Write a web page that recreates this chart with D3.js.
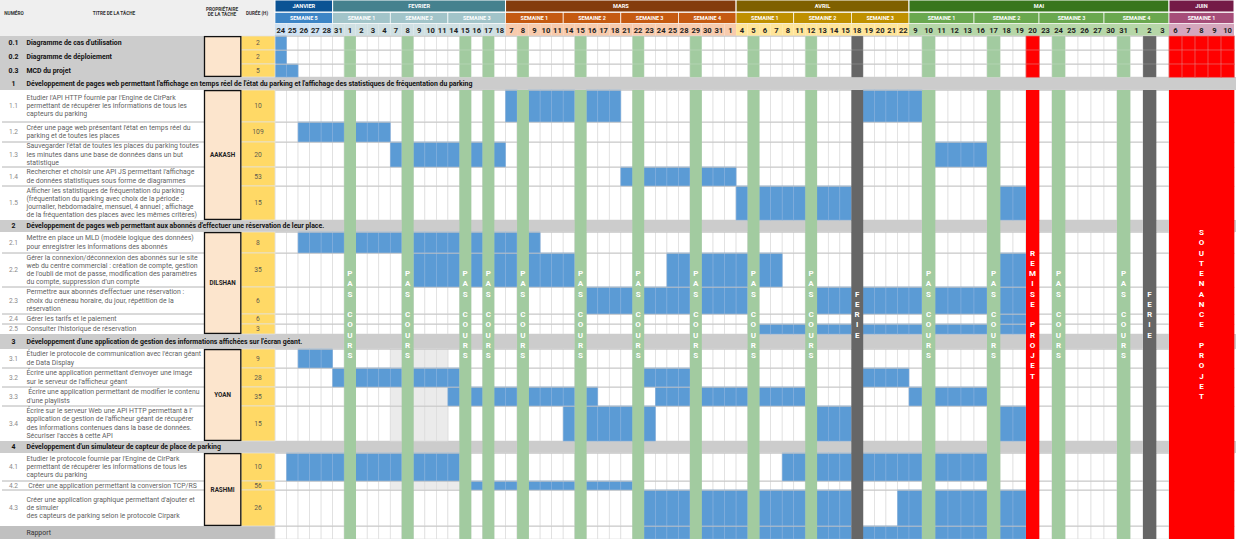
<!DOCTYPE html>
<html><head><meta charset="utf-8">
<script src="https://cdn.jsdelivr.net/npm/d3@7"></script>
<style>
html,body{margin:0;padding:0;background:#fff;}
svg{display:block;font-family:Roboto,"Liberation Sans",Arial,sans-serif;}
</style></head><body>
<svg id="chart" width="1236" height="539"></svg>
<script>
// ================= DATA =================
const months = ["JANVIER","FEVRIER","MARS","AVRIL","MAI","JUIN"];
const monthDayCounts = [5,15,20,15,20,5];
const weeks = ["SEMAINE 5","SEMAINE 1","SEMAINE 2","SEMAINE 3","SEMAINE 1","SEMAINE 2","SEMAINE 3","SEMAINE 4",
  "SEMAINE 1","SEMAINE 2","SEMAINE 3","SEMAINE 1","SEMAINE 2","SEMAINE 3","SEMAINE 4","SEMAINE 1"];
const days = ["24","25","26","27","28","31","1","2","3","4","7","8","9","10","11","14","15","16","17","18",
  "7","8","9","10","11","14","15","16","17","18","21","22","23","24","25","28","29","30","31","1",
  "4","5","6","7","8","11","12","13","14","15","18","19","20","21","22",
  "9","10","11","12","13","16","17","18","19","20","23","24","25","26","27","30","31","1","2","3",
  "6","7","8","9","10"];
const headerLabels = ["NUMÉRO","TITRE DE LA TÂCHE","PROPRIÉTAIRE|DE LA TÂCHE","DURÉE (H)"];

const rowIds = ["0.1","0.2","0.3","1","1.1","1.2","1.3","1.4","1.5","2","2.1","2.2","2.3","2.4","2.5",
  "3","3.1","3.2","3.3","3.4","4","4.1","4.2","4.3",""];
const rowTitles = [
  ["Diagramme de cas d'utilisation"],
  ["Diagramme de déploiement"],
  ["MCD du projet"],
  ["Développement de pages web permettant l'affichage en temps réel de l'état du parking et l'affichage des statistiques de fréquentation du parking"],
  ["Etudier l'API HTTP fournie par l'Engine de CirPark","permettant de récupérer les informations de tous les","capteurs du parking"],
  ["Créer une page web présentant l'état en temps réel du","parking et de toutes les places"],
  ["Sauvegarder l'état de toutes les places du parking toutes","les minutes dans une base de données dans un but","statistique"],
  ["Rechercher et choisir une API JS permettant l'affichage","de données statistiques sous forme de diagrammes"],
  ["Afficher les statistiques de fréquentation du parking","(fréquentation du parking avec choix de la période :","journalier, hebdomadaire, mensuel, 4 annuel ; affichage","de la fréquentation des places avec les mêmes critères)"],
  ["Développement de pages web permettant aux abonnés d'effectuer une réservation de leur place."],
  ["Mettre en place un MLD (modèle logique des données)","pour enregistrer les informations des abonnés"],
  ["Gérer la connexion/déconnexion des abonnés sur le site","web du centre commercial : création de compte, gestion","de l'oubli de mot de passe, modification des paramètres","du compte, suppression d'un compte"],
  ["Permettre aux abonnés d'effectuer une réservation :","choix du créneau horaire, du jour, répétition de la","réservation"],
  ["Gérer les tarifs et le paiement"],
  ["Consulter l'historique de réservation"],
  ["Développement d'une application de gestion des informations affichées sur l'écran géant."],
  ["Étudier le protocole de communication avec l'écran géant","de Data Display"],
  ["Écrire une application permettant d'envoyer une image","sur le serveur de l'afficheur géant"],
  [" Écrire une application permettant de modifier le contenu","d'une playlists"],
  ["Écrire sur le serveur Web une API HTTP permettant à l'","application de gestion de l'afficheur géant de récupérer","des informations contenues dans la base de données.","Sécuriser l'accès à cette API"],
  ["Développement d'un simulateur de capteur de place de parking"],
  ["Etudier le protocole fournie par l'Engine de CirPark","permettant de récupérer les informations de tous les","capteurs du parking"],
  [" Créer une application permettant la conversion TCP/RS"],
  ["Créer une application graphique permettant d'ajouter et","de simuler","des capteurs de parking selon le protocole Cirpark"],
  ["Rapport"]
];
const durations = [2,2,5,null,10,109,20,53,15,null,8,35,6,6,3,null,9,28,35,15,null,10,56,26,null];
// worked day ranges (column indexes, inclusive)
const workedDays = [
  [[0,0]],[[0,0]],[[0,1]],[],
  [[20,20],[22,25],[27,29],[51,55]],
  [[2,9]],
  [[10,19],[57,60]],
  [[30,39]],
  [[40,49],[62,63]],
  [],
  [[2,22]],
  [[12,25],[34,43],[62,63]],
  [[27,40],[47,60],[62,63]],
  [[62,63]],
  [[42,49],[51,60],[62,63]],
  [],
  [[2,4]],
  [[5,15],[32,35],[51,54]],
  [[15,27],[33,45],[55,60]],
  [[25,32],[47,49],[62,63]],
  [],
  [[1,15],[44,60]],
  [[17,30]],
  [[32,49],[54,60],[62,63]],
  [[32,49],[51,60],[62,63]]
];
const owners = ["","AAKASH","DILSHAN","YOAN","RASHMI"];
const ownerFirstRow = ["0.1","1.1","2.1","3.1","4.1"];
const ownerLastRow = ["0.3","1.5","2.5","3.4","4.3"];
const greyedRows = ["3.1","3.3","3.4","4.2"];
const greyedRanges = [[10,14],[10,14],[10,14],[10,15]];

const pasCoursCols = [6,11,16,18,21,26,31,36,41,46,56,61,66,71];
const ferieCols = [50,73];
const remiseCols = [64];
const soutenanceCols = [75,76,77,78,79];
const specialLabels = ["PAS COURS","FERIE","REMISE PROJET","SOUTENANCE PROJET"];

// ================= LAYOUT / STYLE =================
const W = 1236, H = 539, HDR = 36;
const rowHeights = [14,14,13,13,32,20,25,19,34,12,21,34,27,10,10,15,19,19,19,35,12,28,9,36,13];
const monthColors = ["#0b5394","#45818e","#843c0c","#7f6000","#38761d","#741b47"];
const weekColors  = ["#3d85c6","#a2c4c9","#c55a11","#bf9000","#6aa84f","#a64d79"];
const dayColors   = ["#cfe2f3","#d0e0e3","#f8cbad","#ffe599","#b6d7a8","#d5a6bd"];
const sectionsOverSpecials = ["1"];

const svg = d3.select("#chart");
const x = d3.scaleLinear().domain([0,55,80]).range([275,909,1234]);
const colW = c => x(c+1) - x(c);
const nCols = days.length;
const cols = d3.range(nCols);
const monthStart = [0]; monthDayCounts.forEach((n,i)=>monthStart.push(monthStart[i]+n));
const monthOf = c => d3.bisectRight(monthStart, c) - 1;

// ---------- header ----------
svg.append("rect").attr("x",0).attr("y",0).attr("width",275).attr("height",HDR).attr("fill","#efefef");
const hdrPos = [[14,13],[114,13],[222,9.5],[257,13]];
headerLabels.forEach((lab,i)=>{
  const parts = lab.split("|");
  parts.forEach((p,k)=>{
    svg.append("text").attr("x",hdrPos[i][0]).attr("y",hdrPos[i][1]+k*5.4)
      .attr("text-anchor","middle").attr("dominant-baseline","central")
      .attr("font-size",4.7).attr("font-weight",700).attr("fill","#333").text(p);
  });
});
const gH = svg.append("g");
gH.selectAll(".m").data(months).join("rect")
  .attr("x",(d,i)=>x(monthStart[i])).attr("y",0)
  .attr("width",(d,i)=>x(monthStart[i+1])-x(monthStart[i])).attr("height",12)
  .attr("fill",(d,i)=>monthColors[i]).attr("stroke","#fff").attr("stroke-width",1);
gH.selectAll(".mt").data(months).join("text")
  .attr("x",(d,i)=>(x(monthStart[i])+x(monthStart[i+1]))/2).attr("y",6.3)
  .attr("text-anchor","middle").attr("dominant-baseline","central")
  .attr("font-size",5.6).attr("font-weight",700).attr("fill","#fff").text(d=>d);
gH.selectAll(".w").data(weeks).join("rect")
  .attr("x",(d,i)=>x(i*5)).attr("y",12.5)
  .attr("width",(d,i)=>x(i*5+5)-x(i*5)).attr("height",11)
  .attr("fill",(d,i)=>weekColors[monthOf(i*5)]).attr("stroke","#fff").attr("stroke-width",0.7);
gH.selectAll(".wt").data(weeks).join("text")
  .attr("x",(d,i)=>(x(i*5)+x(i*5+5))/2).attr("y",18.3)
  .attr("text-anchor","middle").attr("dominant-baseline","central")
  .attr("font-size",5.4).attr("font-weight",700).attr("fill","#fff").text(d=>d);
gH.selectAll(".d").data(days).join("rect")
  .attr("x",(d,i)=>x(i)).attr("y",24).attr("width",(d,i)=>colW(i)).attr("height",12)
  .attr("fill",(d,i)=>dayColors[monthOf(i)]);
gH.selectAll(".dt").data(days).join("text")
  .attr("x",(d,i)=>x(i)+colW(i)/2).attr("y",30.2)
  .attr("text-anchor","middle").attr("dominant-baseline","central")
  .attr("font-size",7.6).attr("font-weight",700).attr("fill","#222").text(d=>d);

// ---------- rows ----------
const rowTop = [HDR]; rowHeights.forEach((h,i)=>rowTop.push(rowTop[i]+h));
const kindOf = id => id==="" ? "rapport" : id.startsWith("0.") ? "top" : (id.includes(".") ? "task" : "section");
const rows = rowIds.map((id,i)=>({id,i,kind:kindOf(id),y:rowTop[i],h:rowHeights[i],
  title:rowTitles[i],dur:durations[i],bars:workedDays[i]}));
const rowById = new Map(rows.map(r=>[r.id,r]));

const gBg = svg.append("g");
rows.forEach(r=>{
  if (r.kind==="section") {
    gBg.append("rect").attr("x",0).attr("y",r.y).attr("width",W).attr("height",r.h).attr("fill","#cccccc");
    return;
  }
  gBg.append("rect").attr("x",0).attr("y",r.y).attr("width",r.kind==="rapport"?275:204).attr("height",r.h)
    .attr("fill", r.kind==="task" ? "#ffffff" : r.kind==="top" ? "#cccccc" : "#c0c0c0");
  gBg.append("g").selectAll("rect").data(cols).join("rect")
    .attr("x",c=>x(c)).attr("y",r.y).attr("width",c=>colW(c)).attr("height",r.h)
    .attr("fill","#fff").attr("stroke","#dcdcdc").attr("stroke-width",0.7);
});
// greyed cells
greyedRows.forEach((id,k)=>{
  const r = rowById.get(id);
  gBg.append("g").selectAll("rect").data(d3.range(greyedRanges[k][0],greyedRanges[k][1]+1)).join("rect")
    .attr("x",c=>x(c)).attr("y",r.y).attr("width",c=>colW(c)).attr("height",r.h)
    .attr("fill","#ebebeb").attr("stroke","#dcdcdc").attr("stroke-width",0.7);
});
// bars
const gBars = svg.append("g");
rows.forEach(r=>{
  r.bars.forEach(([a,b])=>{
    gBars.append("g").selectAll("rect").data(d3.range(a,b+1)).join("rect")
      .attr("x",c=>x(c)).attr("y",r.y).attr("width",c=>colW(c)).attr("height",r.h)
      .attr("fill","#5b9bd5").attr("stroke","#82aedc").attr("stroke-width",0.6);
  });
});
// horizontal lines in the grid
rows.forEach(r=>{
  if (r.kind==="section") return;
  svg.append("line").attr("x1",275).attr("x2",1234).attr("y1",r.y+0.3).attr("y2",r.y+0.3)
    .attr("stroke","#c4c4c4").attr("stroke-width",0.8);
});
// special columns
const specials = [
  {cols:pasCoursCols, fill:"#a2cba0", label:specialLabels[0]},
  {cols:ferieCols, fill:"#666666", label:specialLabels[1]},
  {cols:remiseCols, fill:"#ff0000", label:specialLabels[2]},
  {cols:soutenanceCols, fill:"#ff0000", label:specialLabels[3], merged:true}
];
const gSp = svg.append("g");
rows.forEach(r=>{
  if (r.kind==="section" && sectionsOverSpecials.includes(r.id)) return;
  specials.forEach(s=>{
    gSp.append("g").selectAll("rect").data(s.cols).join("rect")
      .attr("x",c=>x(c)).attr("y",r.y).attr("width",c=>colW(c)+0.3).attr("height",r.h+0.3)
      .attr("fill",s.fill)
      .attr("stroke", r.kind==="top" ? (s.fill==="#ff0000" ? "#e86a6a" : "rgba(255,255,255,0.25)") : "none")
      .attr("stroke-width",0.7);
  });
});
// vertical labels, centred in the area below the covering section
const firstSec = rowById.get(sectionsOverSpecials[0]);
const labTop = firstSec.y + firstSec.h, labMid = (labTop + H)/2, step = 10.25;
specials.forEach(s=>{
  const letters = s.label.split("");
  const targets = s.merged ? [(x(s.cols[0]) + x(s.cols[s.cols.length-1]+1))/2]
                           : s.cols.map(c=>x(c)+colW(c)/2);
  targets.forEach(cx=>{
    letters.forEach((ch,k)=>{
      if (ch===" ") return;
      gSp.append("text").attr("x",cx).attr("y",labMid + (k-(letters.length-1)/2)*step)
        .attr("text-anchor","middle").attr("dominant-baseline","central")
        .attr("font-size",8).attr("font-weight",700).attr("fill","#fff").text(ch);
    });
  });
});

// ---------- left panel ----------
const gL = svg.append("g");
rows.forEach((r,i)=>{
  if (r.kind==="task" && rows[i-1] && rows[i-1].kind==="task") {
    gL.append("line").attr("x1",2).attr("x2",204).attr("y1",r.y).attr("y2",r.y)
      .attr("stroke","#acacac").attr("stroke-width",0.9);
  }
  if (r.dur!==null) {
    gL.append("rect").attr("x",241).attr("y",r.y).attr("width",34).attr("height",r.h)
      .attr("fill","#ffd966").attr("stroke","#e3e3e3").attr("stroke-width",0.7);
    gL.append("text").attr("x",258).attr("y",r.y+r.h/2+0.3)
      .attr("text-anchor","middle").attr("dominant-baseline","central")
      .attr("font-size",6.7).attr("fill","#5e5a4e").text(r.dur);
  }
  const bold = r.kind==="top" || r.kind==="section";
  if (r.id) {
    gL.append("text").attr("x",13.5).attr("y",r.y+r.h/2)
      .attr("text-anchor","middle").attr("dominant-baseline","central")
      .attr("font-size",bold?6.9:6.6).attr("font-weight",bold?700:400)
      .attr("fill",bold?"#111":"#8a8a8a").text(r.id);
  }
  const lh = 8.2, n = r.title.length;
  r.title.forEach((line,k)=>{
    gL.append("text").attr("x",26.5).attr("y",r.y+r.h/2+(k-(n-1)/2)*lh)
      .attr("dominant-baseline","central").attr("xml:space","preserve")
      .attr("font-size",6.9).attr("font-weight",bold?700:400)
      .attr("fill",bold?"#111":(r.kind==="rapport"?"#333":"#5f5f5f")).text(line);
  });
});
owners.forEach((name,k)=>{
  const a = rowById.get(ownerFirstRow[k]), b = rowById.get(ownerLastRow[k]);
  const y0 = a.y, y1 = b.y + b.h;
  gL.append("rect").attr("x",204.5).attr("y",y0+0.6).attr("width",36.3).attr("height",y1-y0-1.2)
    .attr("fill","#fce5cd").attr("stroke","#111").attr("stroke-width",1.3);
  gL.append("text").attr("x",222.6).attr("y",(y0+y1)/2)
    .attr("text-anchor","middle").attr("dominant-baseline","central")
    .attr("font-size",6.3).attr("font-weight",700).attr("fill","#222").text(name);
});
</script>
</body></html>
